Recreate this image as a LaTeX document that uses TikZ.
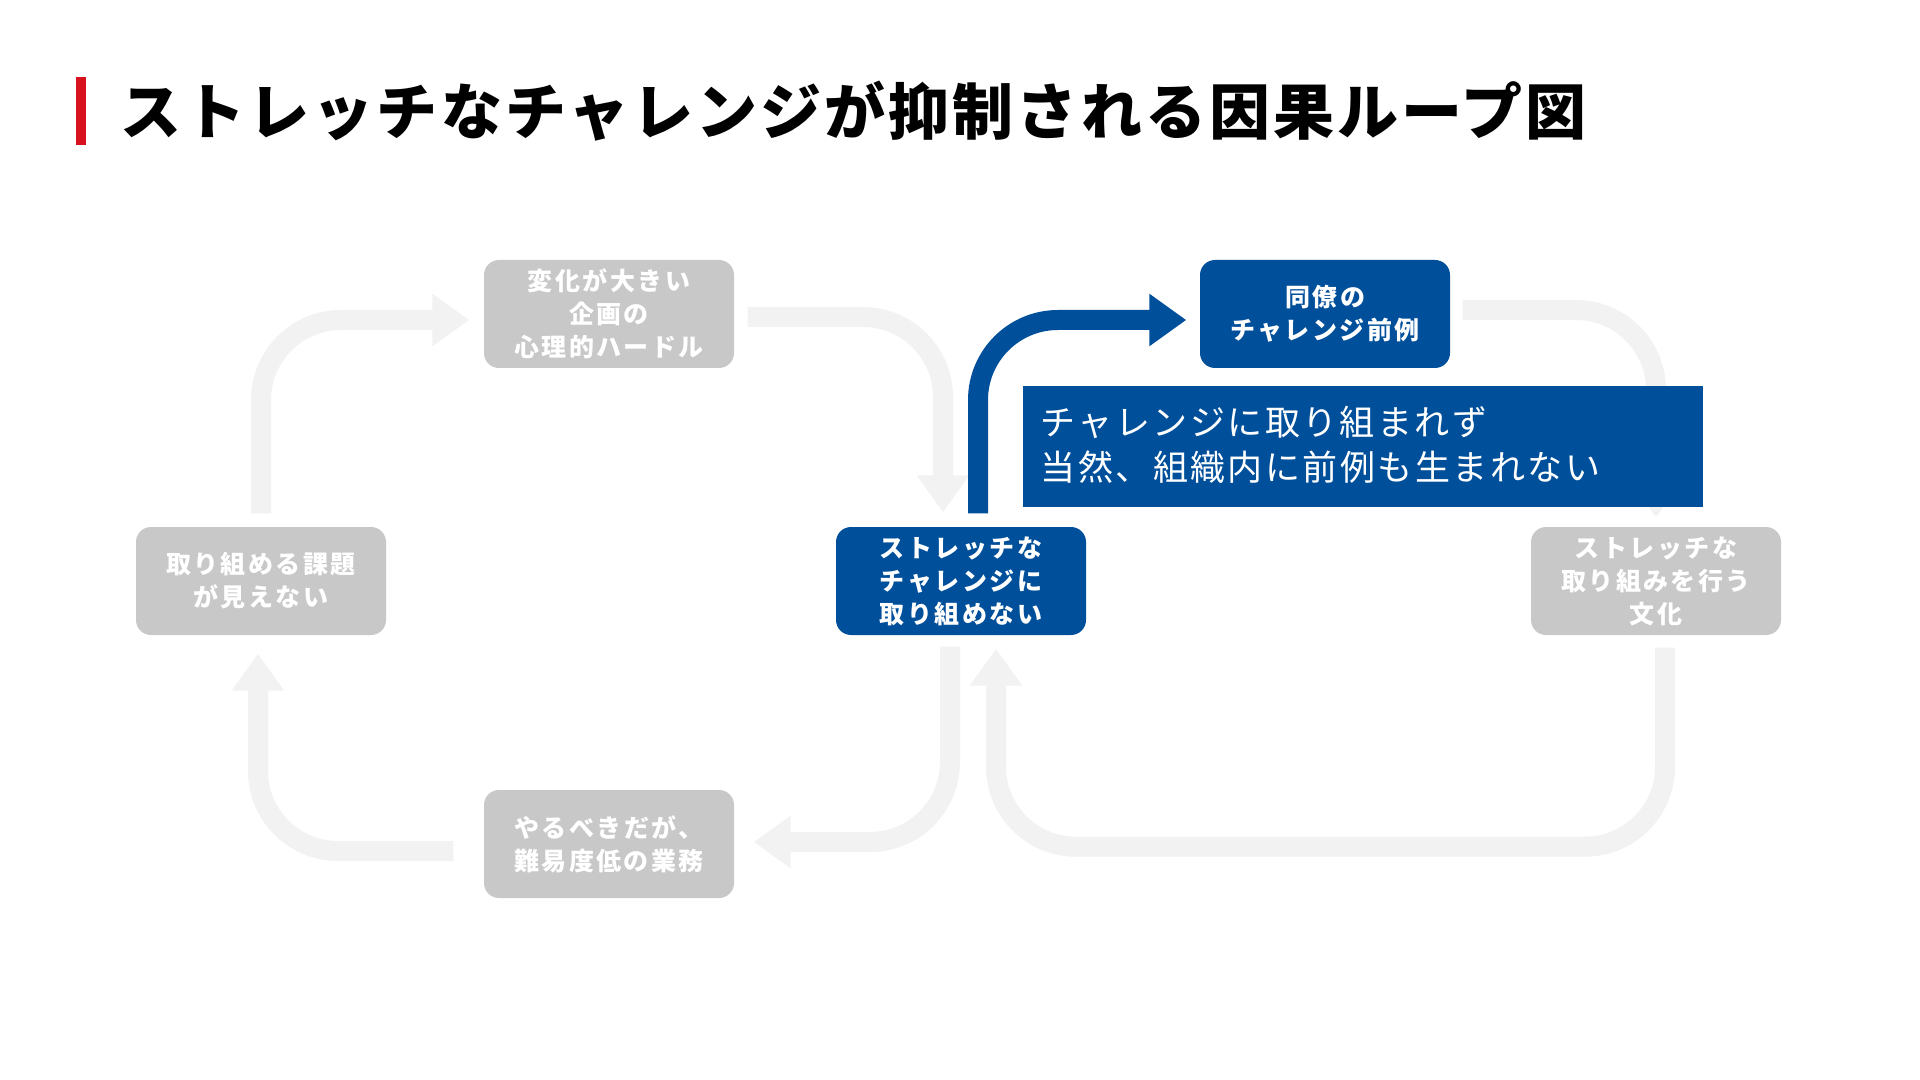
\documentclass[tikz,border=0pt]{standalone}
\usepackage{fontspec}
\setmainfont{Noto Sans CJK JP}
\newfontfamily\titlefont{Noto Sans CJK JP}[LetterSpace=5]
\newfontfamily\boxfont{Noto Sans CJK JP}[LetterSpace=10]
\newfontfamily\notefont{Noto Sans CJK JP}[LetterSpace=7]
\definecolor{LoopBlue}{RGB}{0, 79, 154}
\definecolor{LoopGray}{RGB}{200, 200, 200}
\definecolor{LoopArrow}{RGB}{242, 242, 242}
\definecolor{TitleRed}{RGB}{215, 17, 30}
\usetikzlibrary{arrows.meta, calc}

\begin{document}
\begin{tikzpicture}[
    cause/.style={rectangle, rounded corners=0.15cm, fill=LoopGray, text=white, minimum width=2.5cm, minimum height=1.08cm, inner sep=0pt, align=center, font={\boxfont\bfseries\fontsize{7.11pt}{9.39pt}\selectfont}},
    focus/.style={cause, fill=LoopBlue},
    flow/.style={line width=0.2cm, draw=LoopArrow, rounded corners=0.8cm, -{Triangle[length=0.37cm, width=0.5cm]}},
    focusflow/.style={flow, draw=LoopBlue}
  ]
    \path[fill=white, use as bounding box] (0,0) rectangle (19.2,-10.8);

    % title
    \fill[TitleRed] (0.76,-0.77) rectangle (0.86,-1.45);
    \node[anchor=west, inner sep=0pt, font={\titlefont\bfseries\fontsize{17.36pt}{20pt}\selectfont}] (title) at (1.20,-1.11) {ストレッチなチャレンジが抑制される因果ループ図};

    % loop items
    \node[cause] (c1) at (6.09,-3.14) {変化が大きい\\企画の\\心理的ハードル};
    \node[cause] (c2) at (2.61,-5.81) {取り組める課題\\が見えない};
    \node[focus] (c3) at (9.61,-5.81) {ストレッチな\\チャレンジに\\取り組めない};
    \node[focus] (c4) at (13.25,-3.14) {同僚の\\チャレンジ前例};
    \node[cause] (c5) at (16.56,-5.81) {ストレッチな\\取り組みを行う\\文化};
    \node[cause] (c6) at (6.09,-8.44) {やるべきだが、\\難易度低の業務};

    % arrows
    \draw[flow] ($(c2.north)+(0,0.13)$) |- ($(c1.west)+(-0.14,-0.06)$);
    \draw[flow] ($(c1.east)+(0.13,-0.03)$) -| ($(c3.north)+(-0.18,0.14)$);
    \draw[focusflow] ($(c3.north)+(0.17,0.13)$) |- ($(c4.west)+(-0.13,-0.06)$);
    \draw[flow] ($(c4.east)+(0.12,0.04)$) -| ($(c5.north)+(0,0.09)$);
    \draw[flow] ($(c5.south)+(0.09,-0.12)$) -- ++(0,-1.99) -| ($(c3.south)+(0.35,-0.13)$);
    \draw[flow] ($(c3.south)+(-0.11,-0.11)$) |- ($(c6.east)+(0.19,0.02)$);
    \draw[flow] ($(c6.west)+(-0.30,-0.07)$) -| ($(c2.south)+(-0.03,-0.18)$);

    % callout
    \node[anchor=north west, fill=LoopBlue, text=white, minimum width=6.8cm, minimum height=1.21cm, text width=6.44cm, inner xsep=0.18cm, inner ysep=0pt, align=left, font={\notefont\fontsize{9.96pt}{12.8pt}\selectfont}] (note) at (10.22,-3.85) {\raisebox{1.5pt}{チャレンジに取り組まれず}\\\raisebox{1.5pt}{当然、組織内に前例も生まれない}};
  \end{tikzpicture}
\end{document}
